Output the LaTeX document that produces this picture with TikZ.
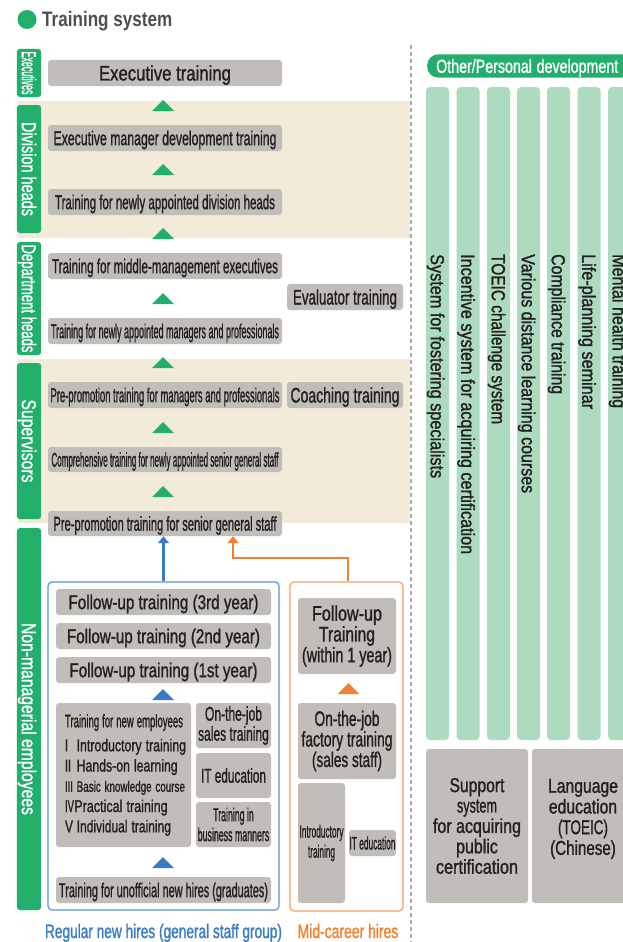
\documentclass[tikz,border=0pt]{standalone}
\usepackage{fontspec}
\setmainfont{Liberation Sans}[FakeBold=1.4]
\newfontfamily\titlefont{Liberation Sans}[UprightFont={* Bold}]
\usepackage{graphicx}
\usetikzlibrary{arrows.meta,calc}
\definecolor{mygreen}{HTML}{22AE6B}
\definecolor{colgreen}{HTML}{ADDBBF}
\definecolor{beige}{HTML}{F2EBD9}
\definecolor{boxgray}{HTML}{C1BEB9}
\definecolor{txtdark}{HTML}{231F20}
\definecolor{myblue}{HTML}{3A7CC4}
\definecolor{blueline}{HTML}{5A93D2}
\definecolor{myorange}{HTML}{F0822F}
\definecolor{orangeline}{HTML}{F4A064}
\definecolor{titlegray}{HTML}{4F4F4F}
\definecolor{dashgray}{HTML}{A8A8A8}
\newcommand{\W}[2]{\resizebox{#1pt}{\height}{#2}}
\newcommand{\uptri}[4]{\fill[#1] (#2-11,#3) -- (#2+11,#3) -- (#2,#3-#4) -- cycle;}
\tikzset{
  fsA/.style={font=\fontsize{20}{22}\selectfont, text height=19.3pt, text depth=5pt},
  fsB/.style={font=\fontsize{19}{21}\selectfont, text height=18.4pt, text depth=4.8pt},
  fsC/.style={font=\fontsize{21}{23}\selectfont, text height=20.2pt, text depth=5.2pt},
  fsS/.style={font=\fontsize{18}{20}\selectfont, text height=17.4pt, text depth=4.5pt},
  gbox/.style={fill=boxgray, rounded corners=3pt, inner sep=0pt, text=txtdark, align=center},
  lab/.style={fill=mygreen, rounded corners=3pt, inner sep=0pt, text=white, rotate=-90, minimum height=22pt, fsA},
  col/.style={fill=colgreen, rounded corners=4pt, inner sep=0pt, minimum width=23pt, minimum height=653pt},
  coltext/.style={fsB, rotate=-90, anchor=west, inner sep=0pt, text=txtdark},
  grpbox/.style={rounded corners=4pt, line width=1.2pt, inner sep=0pt},
  barrow/.style={draw=myblue, line width=2.5pt, -{Triangle[width=11pt,length=7pt]}},
  oarrow/.style={draw=myorange, line width=2.5pt, -{Triangle[width=11pt,length=7pt]}},
}
\begin{document}
\begin{tikzpicture}[x=1pt,y=-1pt]
\useasboundingbox (0,0) rectangle (622,942);
\fill[white] (0,0) rectangle (622,942);

% title
\node[circle, fill=mygreen, minimum size=19pt, inner sep=0pt] (dot) at (27,19.5) {};
\node[anchor=base west, inner sep=0pt, text=titlegray, font=\titlefont\fontsize{21}{23}\selectfont] (title) at (42,27) {\W{130}{Training system}};

% bands
\fill[beige] (18,101) rectangle (410,238);
\fill[beige] (18,359) rectangle (410,523);

% dashed separator
\draw[dashgray, line width=1.3pt, dash pattern=on 4pt off 3pt] (411,45) -- (411,942);

% level labels
\node[lab, minimum width=48pt] (Lexe) at (29,73) {\W{43}{Executives}};
\node[lab, minimum width=128pt] (Ldiv) at (29,169) {\W{94}{Division heads}};
\node[lab, minimum width=113pt] (Ldep) at (29,298.5) {\W{108}{Department heads}};
\node[lab, minimum width=156pt] (Lsup) at (29,441) {\W{83}{Supervisors}};
\node[lab, minimum width=382pt] (Lnon) at (29,719) {\W{192}{Non-managerial employees}};

% management ladder
\node[gbox, fsC, minimum width=234pt, minimum height=26pt] (exe) at (165,73) {\W{132}{Executive training}};
\node[gbox, fsA, minimum width=234pt, minimum height=26pt] (emd) at (165,138) {\W{223}{Executive manager development training}};
\node[gbox, fsA, minimum width=234pt, minimum height=26pt] (ndh) at (165,202) {\W{220}{Training for newly appointed division heads}};
\node[gbox, fsA, minimum width=234pt, minimum height=26pt] (mme) at (165,266) {\W{226}{Training for middle-management executives}};
\node[gbox, fsC, minimum width=116pt, minimum height=26pt] (eval) at (345,297) {\W{104}{Evaluator training}};
\node[gbox, fsA, minimum width=234pt, minimum height=26pt] (nam) at (165,331) {\W{228}{Training for newly appointed managers and professionals}};
\node[gbox, fsA, minimum width=234pt, minimum height=26pt] (ppm) at (165,395) {\W{229}{Pre-promotion training for managers and professionals}};
\node[gbox, fsC, minimum width=116pt, minimum height=26pt] (coach) at (345,395) {\W{109}{Coaching training}};
\node[gbox, fsA, minimum width=234pt, minimum height=25pt] (cns) at (165,459.5) {\W{227}{Comprehensive training for newly appointed senior general staff}};
\node[gbox, fsA, minimum width=234pt, minimum height=25pt] (pps) at (165,523.5) {\W{223}{Pre-promotion training for senior general staff}};

% green triangles
\uptri{mygreen}{163}{111}{11}
\uptri{mygreen}{163}{175}{11}
\uptri{mygreen}{163}{239}{11}
\uptri{mygreen}{163}{304}{11}
\uptri{mygreen}{163}{368}{11}
\uptri{mygreen}{163}{433}{11}
\uptri{mygreen}{163}{497}{11}

% group boxes
\node[grpbox, draw=blueline, minimum width=231pt, minimum height=328pt] (regbox) at (163.5,746) {};
\node[grpbox, draw=orangeline, minimum width=113pt, minimum height=329pt] (midbox) at (346.5,746.5) {};

% regular new hires
\node[gbox, fsA, minimum width=215pt, minimum height=26pt] (fu3) at (163.5,602) {\W{190}{Follow-up training (3rd year)}};
\node[gbox, fsA, minimum width=215pt, minimum height=26pt] (fu2) at (163.5,636) {\W{193}{Follow-up training (2nd year)}};
\node[gbox, fsA, minimum width=215pt, minimum height=26pt] (fu1) at (163.5,670) {\W{188}{Follow-up training (1st year)}};
\uptri{myblue}{163}{700}{11}
\node[gbox, minimum width=135pt, minimum height=144pt, text width=135pt, align=left, font=\fontsize{17}{20.25}\selectfont] (tne) at (123.5,775) {\noindent\hspace*{9pt}\W{118}{\fontsize{18}{20}\selectfont Training for new employees}\\[3.75pt]
\hspace*{9pt}\makebox[11.7pt][l]{\W{3}{I}}\W{109.3}{Introductory training}\\
\hspace*{9pt}\makebox[11.7pt][l]{\W{6}{II}}\W{101}{Hands-on learning}\\
\hspace*{9pt}\makebox[11.7pt][l]{\W{8}{\fontsize{15}{17}\selectfont III}}\W{108.3}{\fontsize{15}{17}\selectfont Basic knowledge course}\\
\hspace*{9pt}\makebox[9.3pt][l]{\W{9}{IV}}\W{93.4}{Practical training}\\
\hspace*{9pt}\makebox[11.7pt][l]{\W{8}{V}}\W{94.3}{Individual training}};
\node[gbox, minimum width=75pt, minimum height=45pt, font=\fontsize{20}{20}\selectfont] (ojs) at (233.5,725.5) {\W{57}{On-the-job}\\\W{70.7}{sales training}};
\node[gbox, fsA, minimum width=75pt, minimum height=45pt] (ite) at (233.5,775.5) {\W{65}{IT education}};
\node[gbox, minimum width=75pt, minimum height=45pt, font=\fontsize{18.5}{20}\selectfont] (tbm) at (233.5,824.5) {\W{40.6}{Training in}\\\W{71.6}{business manners}};
\uptri{myblue}{163}{868}{11}
\node[gbox, fsA, minimum width=215pt, minimum height=26pt] (tun) at (163.5,890) {\W{209}{Training for unofficial new hires (graduates)}};

% mid-career hires
\node[gbox, minimum width=98pt, minimum height=76pt, font=\fontsize{21}{20.8}\selectfont] (fuw) at (347,636) {\W{70}{Follow-up}\\\W{56}{Training}\\\W{90}{(within 1 year)}};
\uptri{myorange}{348.5}{694}{11}
\node[gbox, minimum width=98pt, minimum height=76pt, font=\fontsize{21}{20.5}\selectfont] (ojf) at (347,741) {\W{65}{On-the-job}\\\W{91}{factory training}\\\W{70}{(sales staff)}};
\node[gbox, minimum width=47pt, minimum height=120pt, font=\fontsize{17.5}{20}\selectfont] (intro) at (321.5,843) {\W{44}{Introductory}\\\W{27}{training}};
\node[gbox, fsS, minimum width=47pt, minimum height=26pt] (itm) at (372.5,843) {\W{46}{IT education}};

% group labels
\node[anchor=base, inner sep=0pt, text=myblue, font=\fontsize{19.5}{21}\selectfont] (reglab) at (163.5,938) {\W{237}{Regular new hires (general staff group)}};
\node[anchor=base, inner sep=0pt, text=myorange, font=\fontsize{19.5}{21}\selectfont] (midlab) at (348,938) {\W{100.7}{Mid-career hires}};

% connectors
\draw[barrow] (regbox.north) -- (regbox.north |- pps.south);
\draw[oarrow] ([xshift=1.5pt]midbox.north) -- ++(0,-23.5) -| ($(pps.south)+(68,0)$);

% right side
\node[fill=mygreen, rounded corners=11pt, minimum height=22pt, anchor=west, inner sep=0pt, text=white, fsB, text width=215pt, align=left] (other) at (427,66) {\hspace*{9pt}\W{182}{Other/Personal development}};

\node[col] (c1) at (437.5,413.5) {};
\node[col] (c2) at (468,413.5) {};
\node[col] (c3) at (498.5,413.5) {};
\node[col] (c4) at (528.5,413.5) {};
\node[col] (c5) at (558.5,413.5) {};
\node[col] (c6) at (589,413.5) {};
\node[col] (c7) at (619.5,413.5) {};
\node[coltext] (c1t) at (437.5,254) {\W{224}{System for fostering specialists}};
\node[coltext] (c2t) at (468,254) {\W{300}{Incentive system for acquiring certification}};
\node[coltext] (c3t) at (498.5,254) {\W{170}{TOEIC challenge system}};
\node[coltext] (c4t) at (528.5,254) {\W{239}{Various distance learning courses}};
\node[coltext] (c5t) at (558.5,254) {\W{140}{Compliance training}};
\node[coltext] (c6t) at (589,254) {\W{155}{Life-planning seminar}};
\node[coltext] (c7t) at (619.5,254) {\W{154}{Mental health training}};

\node[gbox, minimum width=102pt, minimum height=154pt, font=\fontsize{20}{20.4}\selectfont] (sup) at (477,826) {\W{55}{Support}\\\W{40}{system}\\\W{88}{for acquiring}\\\W{41.7}{public}\\\W{82}{certification}};
\node[gbox, minimum width=102pt, minimum height=154pt, font=\fontsize{20}{20.7}\selectfont] (lang) at (583,826) {\W{70}{Language}\\\W{68.3}{education}\\\W{50}{(TOEIC)}\\\W{65.7}{(Chinese)}\\[-2.5pt]\mbox{}};
\end{tikzpicture}
\end{document}
